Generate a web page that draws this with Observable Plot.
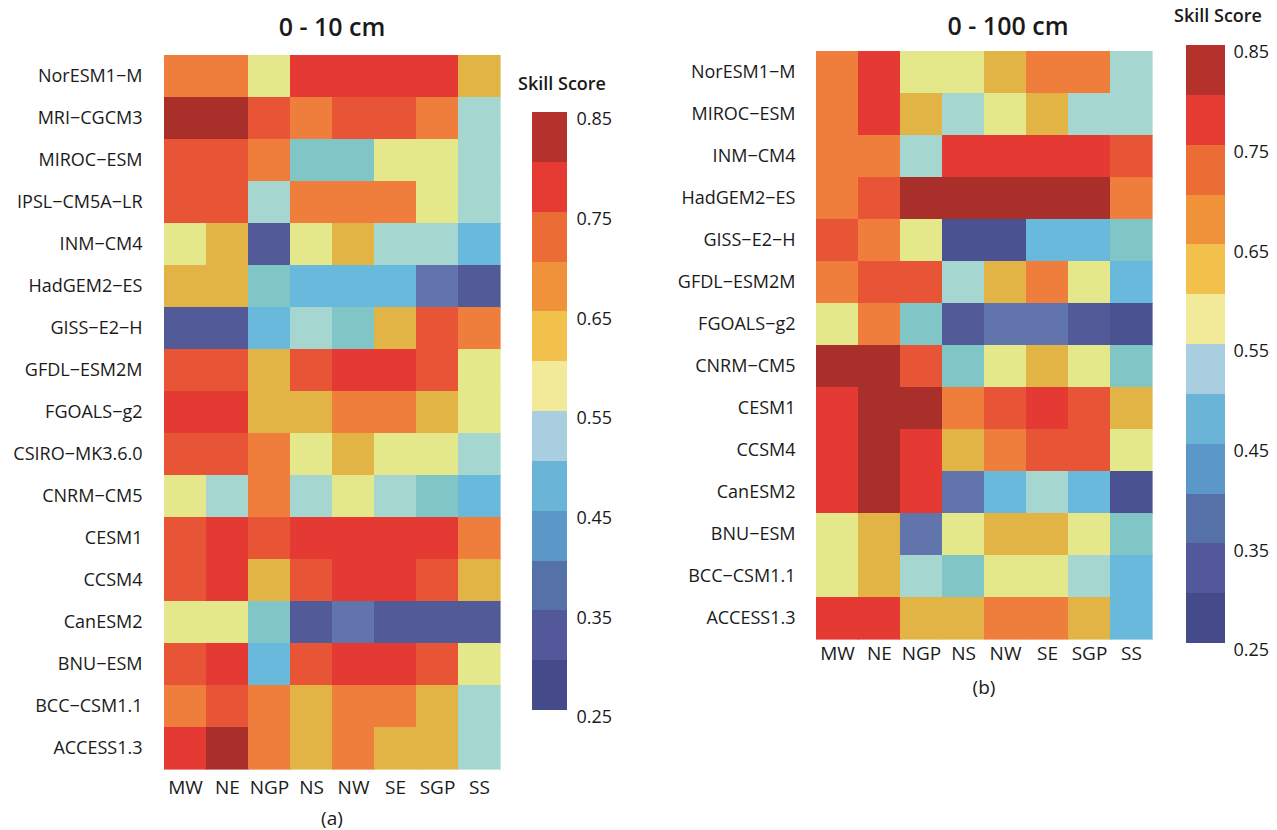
<!DOCTYPE html>
<html>
<head>
<meta charset="utf-8">
<script src="https://cdn.jsdelivr.net/npm/d3@7"></script>
<script src="https://cdn.jsdelivr.net/npm/@observablehq/plot@0.6"></script>
<style>
  html, body { margin: 0; padding: 0; background: #ffffff; }
  #root { position: relative; width: 1277px; height: 830px; overflow: hidden; font-family: "Open Sans", sans-serif; color: #1a1a1a; }
  .abs { position: absolute; }
  .title { font-size: 25px; font-weight: 600; transform: translate(-50%, -50%); white-space: nowrap; }
  .ltitle { font-size: 18px; font-weight: 600; transform: translate(-50%, -50%); white-space: nowrap; }
  .sub { font-size: 19px; transform: translate(-50%, -50%); white-space: nowrap; }
  svg { overflow: visible; }
</style>
</head>
<body>
<div id="root"></div>
<script>
const regions = ["MW", "NE", "NGP", "NS", "NW", "SE", "SGP", "SS"];

const models10 = ["NorESM1−M", "MRI−CGCM3", "MIROC−ESM", "IPSL−CM5A−LR", "INM−CM4", "HadGEM2−ES",
  "GISS−E2−H", "GFDL−ESM2M", "FGOALS−g2", "CSIRO−MK3.6.0", "CNRM−CM5", "CESM1", "CCSM4",
  "CanESM2", "BNU−ESM", "BCC−CSM1.1", "ACCESS1.3"];

const scores10 = [
  [0.67, 0.67, 0.57, 0.77, 0.77, 0.77, 0.77, 0.62],
  [0.82, 0.82, 0.72, 0.67, 0.72, 0.72, 0.67, 0.52],
  [0.72, 0.72, 0.67, 0.47, 0.47, 0.57, 0.57, 0.52],
  [0.72, 0.72, 0.52, 0.67, 0.67, 0.67, 0.57, 0.52],
  [0.57, 0.62, 0.32, 0.57, 0.62, 0.52, 0.52, 0.43],
  [0.62, 0.62, 0.47, 0.43, 0.43, 0.43, 0.38, 0.32],
  [0.32, 0.32, 0.43, 0.52, 0.47, 0.62, 0.72, 0.67],
  [0.72, 0.72, 0.62, 0.72, 0.77, 0.77, 0.72, 0.57],
  [0.77, 0.77, 0.62, 0.62, 0.67, 0.67, 0.62, 0.57],
  [0.72, 0.72, 0.67, 0.57, 0.62, 0.57, 0.57, 0.52],
  [0.57, 0.52, 0.67, 0.52, 0.57, 0.52, 0.47, 0.43],
  [0.72, 0.77, 0.72, 0.77, 0.77, 0.77, 0.77, 0.67],
  [0.72, 0.77, 0.62, 0.72, 0.77, 0.77, 0.72, 0.62],
  [0.57, 0.57, 0.47, 0.32, 0.38, 0.32, 0.32, 0.32],
  [0.72, 0.77, 0.43, 0.72, 0.77, 0.77, 0.72, 0.57],
  [0.67, 0.72, 0.67, 0.62, 0.67, 0.67, 0.62, 0.52],
  [0.77, 0.82, 0.67, 0.62, 0.67, 0.62, 0.62, 0.52]
];

const models100 = ["NorESM1−M", "MIROC−ESM", "INM−CM4", "HadGEM2−ES", "GISS−E2−H", "GFDL−ESM2M",
  "FGOALS−g2", "CNRM−CM5", "CESM1", "CCSM4", "CanESM2", "BNU−ESM", "BCC−CSM1.1", "ACCESS1.3"];

const scores100 = [
  [0.67, 0.77, 0.57, 0.57, 0.62, 0.67, 0.67, 0.52],
  [0.67, 0.77, 0.62, 0.52, 0.57, 0.62, 0.52, 0.52],
  [0.67, 0.67, 0.52, 0.77, 0.77, 0.77, 0.77, 0.72],
  [0.67, 0.72, 0.82, 0.82, 0.82, 0.82, 0.82, 0.67],
  [0.72, 0.67, 0.57, 0.28, 0.28, 0.43, 0.43, 0.47],
  [0.67, 0.72, 0.72, 0.52, 0.62, 0.67, 0.57, 0.43],
  [0.57, 0.67, 0.47, 0.32, 0.38, 0.38, 0.32, 0.29],
  [0.82, 0.82, 0.72, 0.47, 0.57, 0.62, 0.57, 0.47],
  [0.77, 0.82, 0.82, 0.67, 0.72, 0.77, 0.72, 0.62],
  [0.77, 0.82, 0.77, 0.62, 0.67, 0.72, 0.72, 0.57],
  [0.77, 0.82, 0.77, 0.38, 0.43, 0.52, 0.43, 0.29],
  [0.57, 0.62, 0.38, 0.57, 0.62, 0.62, 0.57, 0.47],
  [0.57, 0.62, 0.52, 0.47, 0.57, 0.57, 0.52, 0.43],
  [0.77, 0.77, 0.62, 0.62, 0.67, 0.67, 0.62, 0.43]
];

// color bins
const breaks = [0.25, 0.30, 0.35, 0.40, 0.45, 0.50, 0.55, 0.60, 0.65, 0.70, 0.75, 0.80, 0.85];
const cellColors = ["#4A5292", "#525A98", "#6174AB", "#69B9DD", "#81C6C6", "#A5D6D0",
  "#E4E78A", "#E2B446", "#EF7E3C", "#E75536", "#E43A33", "#A9302A"];
const legendColors = ["#454A8B", "#53589A", "#5571A8", "#5B97C8", "#6AB4D8", "#A8CEE0",
  "#F3EA99", "#F2C14C", "#F09239", "#EB6C34", "#E63B33", "#B5312B"];
const legendTicks = [0.25, 0.35, 0.45, 0.55, 0.65, 0.75, 0.85];

const root = document.getElementById("root");
const FONT = '"Open Sans", sans-serif';

function place(el, left, top) {
  el.style.position = "absolute";
  el.style.left = left + "px";
  el.style.top = top + "px";
  root.appendChild(el);
}
function label(text, cls, x, y) {
  const d = document.createElement("div");
  d.className = "abs " + cls;
  d.textContent = text;
  d.style.left = x + "px";
  d.style.top = y + "px";
  root.appendChild(d);
}

function heatmap(models, scores, opts) {
  const rows = [];
  models.forEach((m, i) => regions.forEach((r, j) => rows.push({model: m, region: r, score: scores[i][j]})));
  return Plot.plot({
    width: opts.width, height: opts.height,
    marginLeft: opts.ml, marginRight: opts.mr, marginTop: opts.mt, marginBottom: opts.mb,
    style: {fontFamily: FONT, fontSize: "18px", color: "#1a1a1a", background: "transparent"},
    x: {domain: regions, padding: 0, label: null, axis: null},
    y: {domain: models, padding: 0, label: null, axis: null},
    color: {type: "threshold", domain: breaks.slice(1, -1), range: cellColors},
    marks: [
      Plot.cell(rows, {x: "region", y: "model", fill: "score", inset: 0, shapeRendering: "crispEdges", stroke: "score", strokeWidth: 0.6}),
      Plot.axisX({anchor: "bottom", tickSize: 0, tickPadding: 7, fontSize: 19, label: null}),
      Plot.axisY({anchor: "left", tickSize: 0, tickPadding: 20, fontSize: 18, label: null})
    ]
  });
}

function legendBar(opts) {
  const bins = legendColors.map((c, i) => ({lo: breaks[i], hi: breaks[i + 1], color: c}));
  return Plot.plot({
    width: opts.barW + 60, height: opts.barH + 24,
    marginLeft: 0, marginRight: 60, marginTop: 12, marginBottom: 12,
    style: {fontFamily: FONT, fontSize: "18px", color: "#1a1a1a", background: "transparent"},
    y: {domain: [0.25, 0.85], label: null, axis: null},
    color: {type: "identity"},
    marks: [
      Plot.rect(bins, {y1: "lo", y2: "hi", fill: "color", shapeRendering: "crispEdges"}),
      Plot.axisY({anchor: "right", ticks: legendTicks, tickFormat: d3.format(".2f"), tickSize: 0, tickPadding: opts.pad, dy: 7, fontSize: 18, label: null})
    ]
  });
}

// Left panel (a)
place(heatmap(models10, scores10, {width: 520, height: 830, ml: 162, mr: 18, mt: 50, mb: 57}), 0, 0);
label("0 - 10 cm", "title", 332, 26);
label("(a)", "sub", 332, 818);
place(legendBar({barW: 35, barH: 598, pad: 9}), 532, 100);
label("Skill Score", "ltitle", 562, 83);

// Right panel (b)
place(heatmap(models100, scores100, {width: 520, height: 699, ml: 175, mr: 7, mt: 51, mb: 60}), 640, 0);
label("0 - 100 cm", "title", 1008, 25);
label("(b)", "sub", 984, 687);
place(legendBar({barW: 39, barH: 598, pad: 8}), 1186, 33);
label("Skill Score", "ltitle", 1218, 15);
</script>
</body>
</html>
